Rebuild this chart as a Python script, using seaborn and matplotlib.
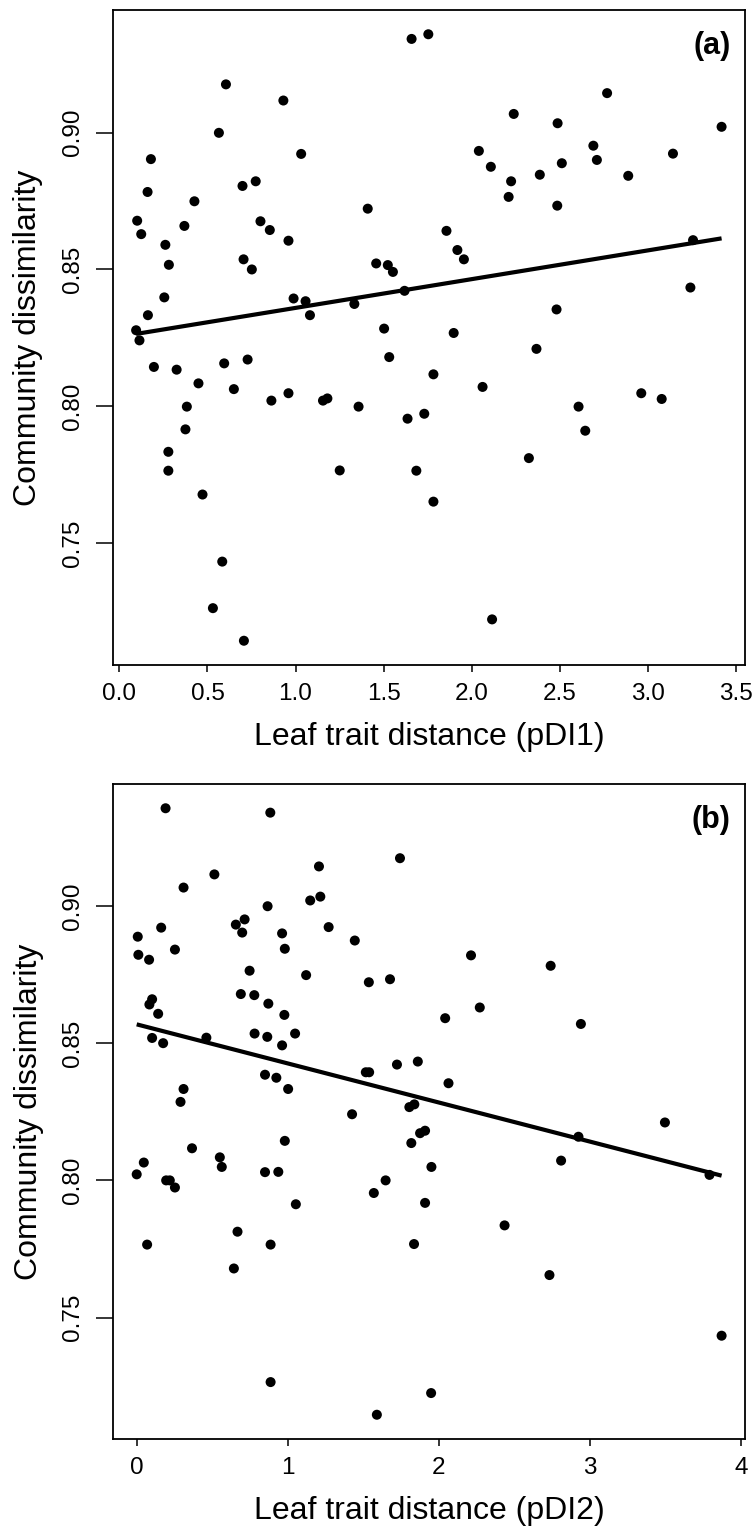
import matplotlib
matplotlib.use("Agg")
import matplotlib.pyplot as plt
import seaborn as sns
import pandas as pd

# Panel (a): leaf trait distance pDI1 vs community dissimilarity
pdi1 = [1.659, 1.754, 0.605, 0.931, 0.565, 0.179, 1.032, 0.160, 0.699, 0.774,
        0.426, 1.410, 0.101, 0.124, 0.369, 0.801, 0.854, 0.960, 0.261, 0.281,
        0.705, 0.752, 1.458, 1.524, 1.553, 0.255, 0.162, 0.989, 1.057, 1.082,
        1.334, 1.619, 1.503, 0.095, 0.114, 2.769, 2.239, 2.488, 3.419, 2.041,
        2.691, 3.143, 2.109, 2.512, 2.711, 2.224, 2.387, 2.889, 2.210, 2.486,
        1.857, 1.919, 1.956, 3.257, 3.242, 2.482, 1.898, 0.196, 0.325, 0.595,
        0.728, 1.532, 0.449, 0.650, 0.863, 0.960, 1.156, 1.181, 1.358, 0.383,
        0.375, 0.278, 0.278, 0.472, 1.251, 1.636, 1.731, 1.686, 0.584, 0.531,
        0.707, 2.368, 1.783, 2.062, 2.607, 2.963, 3.079, 2.645, 2.325, 1.783,
        2.116]
dissim_a = [0.9342, 0.9359, 0.9176, 0.9117, 0.8999, 0.8903, 0.8922, 0.8783, 0.8805, 0.8822,
            0.8749, 0.8722, 0.8678, 0.8629, 0.8659, 0.8676, 0.8644, 0.8605, 0.8590, 0.8517,
            0.8537, 0.8500, 0.8522, 0.8516, 0.8491, 0.8398, 0.8333, 0.8394, 0.8384, 0.8333,
            0.8374, 0.8422, 0.8284, 0.8278, 0.8241, 0.9144, 0.9068, 0.9034, 0.9021, 0.8933,
            0.8952, 0.8923, 0.8875, 0.8888, 0.8900, 0.8822, 0.8846, 0.8842, 0.8765, 0.8733,
            0.8641, 0.8571, 0.8537, 0.8607, 0.8434, 0.8354, 0.8268, 0.8144, 0.8134, 0.8157,
            0.8171, 0.8180, 0.8084, 0.8063, 0.8021, 0.8048, 0.8021, 0.8029, 0.7999, 0.7999,
            0.7916, 0.7834, 0.7765, 0.7678, 0.7766, 0.7955, 0.7973, 0.7765, 0.7433, 0.7263,
            0.7144, 0.8210, 0.8117, 0.8071, 0.7999, 0.8048, 0.8027, 0.7911, 0.7811, 0.7652,
            0.7222]

# Panel (b): leaf trait distance pDI2 vs community dissimilarity
pdi2 = [0.191, 0.884, 1.742, 1.206, 0.514, 0.310, 1.148, 1.215, 0.866, 0.162,
        0.656, 0.714, 0.698, 0.962, 1.270, 0.007, 0.980, 1.443, 0.253, 0.011,
        0.082, 0.747, 1.121, 1.536, 1.676, 0.689, 0.778, 0.871, 0.977, 0.102,
        0.084, 0.142, 0.102, 0.175, 0.461, 0.780, 0.864, 0.962, 1.048, 0.849,
        0.924, 1.002, 1.516, 1.538, 1.722, 1.860, 0.310, 0.290, 2.212, 2.739,
        2.270, 2.041, 2.939, 2.063, 1.425, 1.804, 1.837, 1.875, 1.908, 1.817,
        0.980, 0.366, 0.047, 0.000, 0.550, 0.563, 0.195, 0.219, 0.253, 0.849,
        0.937, 1.053, 1.569, 1.647, 1.908, 0.069, 0.667, 0.886, 0.643, 1.835,
        0.886, 1.589, 3.495, 2.923, 3.790, 1.950, 2.808, 2.434, 2.731, 3.870,
        1.948]
dissim_b = [0.9356, 0.9340, 0.9174, 0.9144, 0.9115, 0.9067, 0.9020, 0.9034, 0.8999, 0.8921,
            0.8932, 0.8951, 0.8903, 0.8900, 0.8923, 0.8888, 0.8844, 0.8874, 0.8841, 0.8822,
            0.8804, 0.8764, 0.8748, 0.8722, 0.8733, 0.8679, 0.8675, 0.8644, 0.8603, 0.8660,
            0.8641, 0.8607, 0.8519, 0.8500, 0.8520, 0.8535, 0.8523, 0.8492, 0.8535, 0.8385,
            0.8374, 0.8333, 0.8394, 0.8394, 0.8422, 0.8433, 0.8333, 0.8286, 0.8820, 0.8782,
            0.8630, 0.8591, 0.8570, 0.8354, 0.8241, 0.8267, 0.8277, 0.8172, 0.8181, 0.8136,
            0.8144, 0.8117, 0.8065, 0.8022, 0.8084, 0.8049, 0.8000, 0.8000, 0.7974, 0.8030,
            0.8031, 0.7913, 0.7954, 0.8000, 0.7918, 0.7766, 0.7813, 0.7766, 0.7679, 0.7768,
            0.7265, 0.7146, 0.8211, 0.8159, 0.8020, 0.8049, 0.8072, 0.7836, 0.7655, 0.7434,
            0.7225]

y_ticks = [0.75, 0.80, 0.85, 0.90]
x_ticks_a = [0.0, 0.5, 1.0, 1.5, 2.0, 2.5, 3.0, 3.5]
x_ticks_b = [0, 1, 2, 3, 4]

sns.set_theme(style="ticks")
plt.rcParams["font.family"] = ["Liberation Sans", "DejaVu Sans"]

W, H = 754, 1531
fig = plt.figure(figsize=(W / 100, H / 100), dpi=100)
fig.patch.set_facecolor("white")


def px_axes(left, top, right, bottom):
    return fig.add_axes([left / W, 1 - bottom / H, (right - left) / W, (bottom - top) / H])


def padded(vals, frac=0.04):
    lo, hi = min(vals), max(vals)
    r = hi - lo
    return lo - frac * r, hi + frac * r


def panel(ax, x, y, xticks, xfmt, xlabel, tag):
    df = pd.DataFrame({"x": x, "y": y})
    sns.scatterplot(data=df, x="x", y="y", ax=ax, color="black", s=52,
                    edgecolor="none", linewidth=0, zorder=3)
    sns.regplot(data=df, x="x", y="y", ax=ax, scatter=False, ci=None,
                truncate=True, line_kws=dict(color="black", lw=3.0,
                                             solid_capstyle="butt", zorder=4))
    ax.set_xlim(*padded(x))
    ax.set_ylim(*padded(y))
    ax.set_xticks(xticks)
    ax.set_xticklabels([xfmt.format(v) for v in xticks])
    ax.set_yticks(y_ticks)
    ax.set_yticklabels([f"{v:.2f}" for v in y_ticks])
    for side in ax.spines.values():
        side.set_visible(True)
        side.set_linewidth(1.3)
        side.set_color("black")
    ax.tick_params(axis="x", length=5.3, width=1.1, pad=7.5, labelsize=17.5,
                   colors="black", direction="out")
    ax.tick_params(axis="y", length=12, width=1.1, pad=9, labelsize=17.5,
                   colors="black", direction="out", labelrotation=90)
    for lab in ax.get_yticklabels():
        lab.set_va("center")
    ax.set_xlabel(xlabel, fontsize=23, color="black")
    ax.set_ylabel("Community dissimilarity", fontsize=23, color="black")
    ax.xaxis.label.set_va("center")
    ax.yaxis.label.set_va("center")
    ax.xaxis.set_label_coords(0.5, -0.110)
    ax.yaxis.set_label_coords(-0.134, 0.5)
    ax.text(0.977, 0.968, tag, transform=ax.transAxes, ha="right", va="top",
            fontsize=22, fontweight="bold", color="black")
    ax.set_facecolor("white")
    ax.grid(False)


ax_a = px_axes(112.7, 10, 745, 665)
panel(ax_a, pdi1, dissim_a, x_ticks_a, "{:.1f}", "Leaf trait distance (pDI1)", "(a)")

ax_b = px_axes(113.3, 784, 745, 1439)
panel(ax_b, pdi2, dissim_b, x_ticks_b, "{:d}", "Leaf trait distance (pDI2)", "(b)")

fig.savefig("out.png", dpi=100, facecolor="white")
